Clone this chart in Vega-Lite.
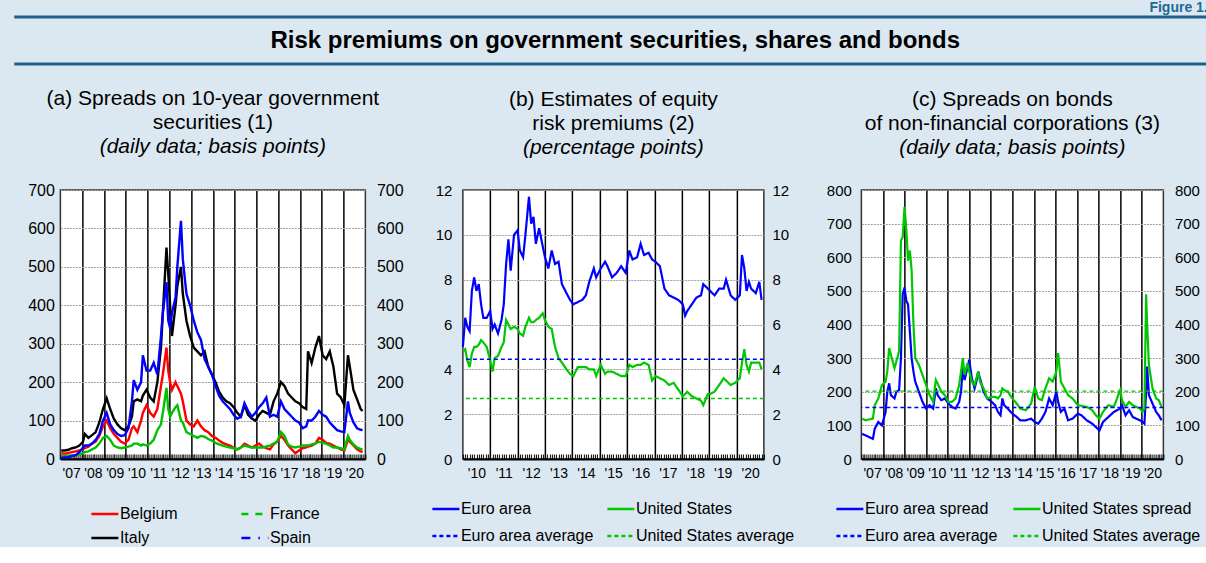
{
  "$schema": "https://vega.github.io/schema/vega-lite/v6.json",
  "background": "#dce8f1",
  "padding": {"left": 12, "top": 0, "right": 0, "bottom": 0},
  "config": {
    "font": "Liberation Sans",
    "view": {"stroke": "#333333", "strokeWidth": 1.5, "fill": "white"},
    "axis": {"labelColor": "black", "labelFont": "Liberation Sans", "labelFontSize": 16, "title": null},
    "legend": {"padding": 0, "labelFontSize": 16, "labelColor": "black", "labelFont": "Liberation Sans", "symbolStrokeWidth": 2.5, "symbolSize": 729, "symbolType": "stroke", "labelLimit": 260, "labelOffset": 0, "direction": "horizontal"},
    "title": {"font": "Liberation Sans", "fontSize": 21, "fontWeight": "normal", "color": "black", "subtitleFont": "Liberation Sans", "subtitleFontSize": 21, "subtitleFontStyle": "italic", "subtitleColor": "black", "lineHeight": 24, "subtitleLineHeight": 24, "subtitlePadding": 0, "anchor": "middle", "offset": 25}
  },
  "center": true,
  "spacing": 21,
  "vconcat": [
    {
      "width": 1232,
      "height": 47,
      "title": {"text": "Figure 1.", "anchor": "end", "fontSize": 14, "fontWeight": "bold", "color": "#1d6a93", "offset": 1, "dx": -40, "lineHeight": 14},
      "view": {"stroke": null, "fill": null},
      "layer": [
        {
          "data": {"values": [{"p": 0}, {"p": 1}]},
          "mark": {"type": "rule", "color": "#1f6089", "strokeWidth": 3},
          "encoding": {"y": {"field": "p", "type": "quantitative", "scale": {"domain": [0, 1], "nice": false}, "axis": null}}
        },
        {
          "data": {"values": [{"t": "Risk premiums on government securities, shares and bonds"}]},
          "mark": {"type": "text", "fontSize": 24, "fontWeight": "bold", "color": "black", "dx": -15},
          "encoding": {"text": {"field": "t"}}
        }
      ]
    },
    {
      "hconcat": [
        {
          "width": 305,
          "height": 269,
          "title": {"text": ["(a) Spreads on 10-year government", "securities (1)"], "subtitle": "(daily data; basis points)"},
          "data": {"values": [
            {"d": "2007-01-15", "Belgium": 15, "France": 6, "Italy": 22, "Spain": 3},
            {"d": "2007-03-15", "Belgium": 14, "France": 7, "Italy": 22, "Spain": 4},
            {"d": "2007-05-15", "Belgium": 16, "France": 8, "Italy": 24, "Spain": 5},
            {"d": "2007-07-15", "Belgium": 18, "France": 9, "Italy": 28, "Spain": 8},
            {"d": "2007-09-15", "Belgium": 20, "France": 10, "Italy": 30, "Spain": 10},
            {"d": "2007-11-15", "Belgium": 22, "France": 12, "Italy": 35, "Spain": 18},
            {"d": "2008-01-15", "Belgium": 25, "France": 15, "Italy": 45, "Spain": 30},
            {"d": "2008-02-15", "Belgium": 28, "France": 18, "Italy": 65, "Spain": 35},
            {"d": "2008-04-15", "Belgium": 32, "France": 20, "Italy": 55, "Spain": 35},
            {"d": "2008-06-15", "Belgium": 40, "France": 25, "Italy": 62, "Spain": 40},
            {"d": "2008-08-15", "Belgium": 45, "France": 30, "Italy": 70, "Spain": 50},
            {"d": "2008-10-15", "Belgium": 60, "France": 40, "Italy": 95, "Spain": 65},
            {"d": "2008-12-15", "Belgium": 85, "France": 55, "Italy": 130, "Spain": 100},
            {"d": "2009-02-15", "Belgium": 100, "France": 60, "Italy": 158, "Spain": 120},
            {"d": "2009-04-15", "Belgium": 80, "France": 50, "Italy": 130, "Spain": 90},
            {"d": "2009-06-15", "Belgium": 65, "France": 35, "Italy": 105, "Spain": 75},
            {"d": "2009-08-15", "Belgium": 55, "France": 30, "Italy": 90, "Spain": 65},
            {"d": "2009-10-15", "Belgium": 45, "France": 28, "Italy": 80, "Spain": 60},
            {"d": "2009-12-15", "Belgium": 40, "France": 30, "Italy": 75, "Spain": 62},
            {"d": "2010-02-15", "Belgium": 50, "France": 32, "Italy": 85, "Spain": 80},
            {"d": "2010-04-15", "Belgium": 80, "France": 35, "Italy": 110, "Spain": 150},
            {"d": "2010-05-15", "Belgium": 85, "France": 40, "Italy": 150, "Spain": 205},
            {"d": "2010-07-15", "Belgium": 70, "France": 40, "Italy": 155, "Spain": 180},
            {"d": "2010-09-15", "Belgium": 100, "France": 35, "Italy": 150, "Spain": 200},
            {"d": "2010-10-15", "Belgium": 120, "France": 38, "Italy": 165, "Spain": 270},
            {"d": "2010-12-15", "Belgium": 140, "France": 35, "Italy": 180, "Spain": 230},
            {"d": "2011-02-15", "Belgium": 120, "France": 40, "Italy": 160, "Spain": 230},
            {"d": "2011-04-15", "Belgium": 110, "France": 50, "Italy": 150, "Spain": 250},
            {"d": "2011-06-15", "Belgium": 130, "France": 75, "Italy": 200, "Spain": 220},
            {"d": "2011-08-15", "Belgium": 190, "France": 90, "Italy": 290, "Spain": 320},
            {"d": "2011-09-15", "Belgium": 220, "France": 120, "Italy": 380, "Spain": 380},
            {"d": "2011-11-15", "Belgium": 290, "France": 185, "Italy": 550, "Spain": 460},
            {"d": "2011-12-15", "Belgium": 230, "France": 130, "Italy": 480, "Spain": 360},
            {"d": "2012-01-15", "Belgium": 200, "France": 110, "Italy": 400, "Spain": 340},
            {"d": "2012-02-15", "Belgium": 180, "France": 120, "Italy": 320, "Spain": 380},
            {"d": "2012-04-15", "Belgium": 200, "France": 135, "Italy": 400, "Spain": 420},
            {"d": "2012-05-15", "Belgium": 190, "France": 140, "Italy": 450, "Spain": 500},
            {"d": "2012-07-15", "Belgium": 170, "France": 100, "Italy": 500, "Spain": 620},
            {"d": "2012-08-15", "Belgium": 150, "France": 95, "Italy": 430, "Spain": 520},
            {"d": "2012-10-15", "Belgium": 100, "France": 70, "Italy": 360, "Spain": 430},
            {"d": "2012-12-15", "Belgium": 90, "France": 65, "Italy": 320, "Spain": 400},
            {"d": "2013-02-15", "Belgium": 85, "France": 60, "Italy": 290, "Spain": 360},
            {"d": "2013-04-15", "Belgium": 100, "France": 55, "Italy": 280, "Spain": 330},
            {"d": "2013-06-15", "Belgium": 85, "France": 60, "Italy": 270, "Spain": 310},
            {"d": "2013-08-15", "Belgium": 75, "France": 58, "Italy": 280, "Spain": 260},
            {"d": "2013-10-15", "Belgium": 70, "France": 52, "Italy": 240, "Spain": 240},
            {"d": "2013-12-15", "Belgium": 60, "France": 48, "Italy": 220, "Spain": 220},
            {"d": "2014-02-15", "Belgium": 55, "France": 42, "Italy": 200, "Spain": 190},
            {"d": "2014-04-15", "Belgium": 48, "France": 38, "Italy": 175, "Spain": 165},
            {"d": "2014-06-15", "Belgium": 42, "France": 35, "Italy": 160, "Spain": 150},
            {"d": "2014-08-15", "Belgium": 38, "France": 32, "Italy": 150, "Spain": 140},
            {"d": "2014-10-15", "Belgium": 35, "France": 30, "Italy": 145, "Spain": 130},
            {"d": "2014-12-15", "Belgium": 30, "France": 28, "Italy": 135, "Spain": 115},
            {"d": "2015-02-15", "Belgium": 25, "France": 25, "Italy": 120, "Spain": 105},
            {"d": "2015-04-15", "Belgium": 30, "France": 30, "Italy": 110, "Spain": 110},
            {"d": "2015-06-15", "Belgium": 40, "France": 35, "Italy": 140, "Spain": 145},
            {"d": "2015-08-15", "Belgium": 35, "France": 32, "Italy": 115, "Spain": 125},
            {"d": "2015-10-15", "Belgium": 30, "France": 30, "Italy": 105, "Spain": 110},
            {"d": "2015-12-15", "Belgium": 35, "France": 30, "Italy": 100, "Spain": 120},
            {"d": "2016-02-15", "Belgium": 40, "France": 30, "Italy": 115, "Spain": 135},
            {"d": "2016-04-15", "Belgium": 32, "France": 30, "Italy": 125, "Spain": 145},
            {"d": "2016-06-15", "Belgium": 28, "France": 33, "Italy": 120, "Spain": 160},
            {"d": "2016-08-15", "Belgium": 25, "France": 35, "Italy": 115, "Spain": 110},
            {"d": "2016-10-15", "Belgium": 38, "France": 40, "Italy": 150, "Spain": 115},
            {"d": "2016-12-15", "Belgium": 45, "France": 45, "Italy": 170, "Spain": 110},
            {"d": "2017-02-15", "Belgium": 60, "France": 70, "Italy": 200, "Spain": 150},
            {"d": "2017-04-15", "Belgium": 50, "France": 60, "Italy": 190, "Spain": 130},
            {"d": "2017-06-15", "Belgium": 35, "France": 38, "Italy": 170, "Spain": 120},
            {"d": "2017-08-15", "Belgium": 25, "France": 32, "Italy": 160, "Spain": 110},
            {"d": "2017-10-15", "Belgium": 15, "France": 30, "Italy": 150, "Spain": 100},
            {"d": "2017-12-15", "Belgium": 22, "France": 32, "Italy": 145, "Spain": 95},
            {"d": "2018-02-15", "Belgium": 28, "France": 35, "Italy": 135, "Spain": 80},
            {"d": "2018-04-15", "Belgium": 30, "France": 35, "Italy": 130, "Spain": 85},
            {"d": "2018-05-15", "Belgium": 32, "France": 35, "Italy": 280, "Spain": 100},
            {"d": "2018-07-15", "Belgium": 35, "France": 38, "Italy": 250, "Spain": 100},
            {"d": "2018-09-15", "Belgium": 40, "France": 40, "Italy": 290, "Spain": 110},
            {"d": "2018-11-15", "Belgium": 55, "France": 45, "Italy": 320, "Spain": 125},
            {"d": "2019-01-15", "Belgium": 50, "France": 42, "Italy": 270, "Spain": 115},
            {"d": "2019-03-15", "Belgium": 42, "France": 40, "Italy": 260, "Spain": 110},
            {"d": "2019-05-15", "Belgium": 40, "France": 35, "Italy": 280, "Spain": 95},
            {"d": "2019-07-15", "Belgium": 35, "France": 30, "Italy": 240, "Spain": 85},
            {"d": "2019-09-15", "Belgium": 30, "France": 30, "Italy": 170, "Spain": 75},
            {"d": "2019-11-15", "Belgium": 25, "France": 28, "Italy": 160, "Spain": 72},
            {"d": "2020-01-15", "Belgium": 22, "France": 25, "Italy": 140, "Spain": 70},
            {"d": "2020-03-15", "Belgium": 50, "France": 60, "Italy": 270, "Spain": 150},
            {"d": "2020-04-15", "Belgium": 45, "France": 50, "Italy": 240, "Spain": 120},
            {"d": "2020-06-15", "Belgium": 35, "France": 38, "Italy": 180, "Spain": 95},
            {"d": "2020-08-15", "Belgium": 25, "France": 30, "Italy": 155, "Spain": 80},
            {"d": "2020-10-15", "Belgium": 20, "France": 26, "Italy": 130, "Spain": 76},
            {"d": "2020-11-15", "Belgium": 18, "France": 25, "Italy": 125, "Spain": 75}
          ]},
          "transform": [{"fold": ["Belgium", "France", "Italy", "Spain"], "as": ["series", "value"]}],
          "layer": [
            {
              "mark": {"type": "line", "strokeWidth": 2.4},
              "encoding": {
                "x": {"field": "d", "type": "temporal", "scale": {"domain": [{"year": 2007, "month": 1, "date": 1}, {"year": 2021, "month": 1, "date": 1}]},
                  "axis": {"orient": "bottom", "values": [{"year": 2008}, {"year": 2009}, {"year": 2010}, {"year": 2011}, {"year": 2012}, {"year": 2013}, {"year": 2014}, {"year": 2015}, {"year": 2016}, {"year": 2017}, {"year": 2018}, {"year": 2019}, {"year": 2020}], "grid": true, "gridColor": "black", "gridWidth": 1.5, "labels": false, "ticks": false, "domain": false, "title": null}},
                "y": {"field": "value", "type": "quantitative", "scale": {"domain": [0, 700], "nice": false},
                  "axis": {"orient": "left", "values": [0, 100, 200, 300, 400, 500, 600, 700], "grid": true, "gridColor": "#a0a0a0", "gridDash": [2, 1], "ticks": false, "domain": false, "labelPadding": 6, "labelFontSize": 16, "title": null}},
                "color": {"field": "series", "type": "nominal",
                  "scale": {"domain": ["Belgium", "France", "Italy", "Spain"], "range": ["#ff0000", "#00c000", "#000000", "#0000ff"]},
                  "legend": {"orient": "none", "direction": "horizontal", "legendX": 29.5, "legendY": 309, "columns": 2, "columnPadding": 58, "rowPadding": 1, "title": null, "symbolType": "stroke",
                    "encode": {"symbols": {"update": {"strokeDash": {"signal": "datum.value === 'France' ? [7, 7] : datum.value === 'Spain' ? [9, 8, 1.5, 8] : [1, 0]"}}}}}}
              }
            },
            {
              "mark": {"type": "point", "opacity": 0},
              "encoding": {
                "x": {"field": "d", "type": "temporal",
                  "axis": {"orient": "bottom", "tickCount": {"interval": "month", "step": 1}, "tickSize": -5, "tickColor": "black", "tickWidth": 1, "grid": false, "domain": true, "domainColor": "black", "domainWidth": 2, "labelPadding": 12, "labelFontSize": 14, "labelOverlap": false, "labelBound": false, "labelFlush": false, "labelExpr": "month(datum.value) == 6 ? \"'\" + timeFormat(datum.value, '%y') : ''", "title": null}},
                "y": {"field": "value", "type": "quantitative",
                  "axis": {"orient": "right", "values": [0, 100, 200, 300, 400, 500, 600, 700], "grid": false, "ticks": false, "domain": false, "labelPadding": 11, "labelFontSize": 16, "title": null}}
              }
            }
          ],
          "resolve": {"axis": {"x": "independent", "y": "independent"}}
        },
        {
          "width": 301,
          "height": 269,
          "title": {"text": ["(b) Estimates of equity", "risk premiums (2)"], "subtitle": "(percentage points)"},
          "layer": [
            {
              "data": {"values": [
                {"d": "2010-01-01", "Euro area": 5.0, "United States": 4.8},
                {"d": "2010-02-01", "Euro area": 6.3, "United States": 4.9},
                {"d": "2010-03-01", "Euro area": 5.9, "United States": 4.4},
                {"d": "2010-04-01", "Euro area": 5.7, "United States": 4.1},
                {"d": "2010-05-01", "Euro area": 7.5, "United States": 4.7},
                {"d": "2010-06-01", "Euro area": 8.1, "United States": 5.0},
                {"d": "2010-07-01", "Euro area": 7.5, "United States": 5.0},
                {"d": "2010-08-01", "Euro area": 7.8, "United States": 5.1},
                {"d": "2010-09-01", "Euro area": 6.9, "United States": 5.3},
                {"d": "2010-10-01", "Euro area": 6.3, "United States": 5.2},
                {"d": "2010-11-15", "Euro area": 6.3, "United States": 5.0},
                {"d": "2011-01-01", "Euro area": 6.6, "United States": 4.4},
                {"d": "2011-02-01", "Euro area": 5.8, "United States": 3.9},
                {"d": "2011-03-01", "Euro area": 6.0, "United States": 4.5},
                {"d": "2011-04-15", "Euro area": 5.6, "United States": 4.6},
                {"d": "2011-06-01", "Euro area": 6.2, "United States": 5.0},
                {"d": "2011-07-01", "Euro area": 6.9, "United States": 5.2},
                {"d": "2011-08-01", "Euro area": 8.7, "United States": 6.2},
                {"d": "2011-09-01", "Euro area": 9.8, "United States": 6.0},
                {"d": "2011-10-01", "Euro area": 8.4, "United States": 5.8},
                {"d": "2011-11-15", "Euro area": 10.0, "United States": 5.9},
                {"d": "2012-01-01", "Euro area": 10.2, "United States": 5.8},
                {"d": "2012-02-01", "Euro area": 9.3, "United States": 5.6},
                {"d": "2012-03-15", "Euro area": 9.0, "United States": 5.5},
                {"d": "2012-04-15", "Euro area": 10.0, "United States": 5.9},
                {"d": "2012-06-01", "Euro area": 11.7, "United States": 6.3},
                {"d": "2012-07-01", "Euro area": 10.5, "United States": 6.1},
                {"d": "2012-08-01", "Euro area": 10.8, "United States": 6.1},
                {"d": "2012-09-01", "Euro area": 9.6, "United States": 6.2},
                {"d": "2012-10-15", "Euro area": 10.3, "United States": 6.3},
                {"d": "2012-12-01", "Euro area": 9.5, "United States": 6.5},
                {"d": "2013-01-01", "Euro area": 9.0, "United States": 6.2},
                {"d": "2013-02-15", "Euro area": 8.5, "United States": 5.9},
                {"d": "2013-04-01", "Euro area": 9.3, "United States": 5.8},
                {"d": "2013-05-15", "Euro area": 8.7, "United States": 5.0},
                {"d": "2013-07-01", "Euro area": 8.8, "United States": 4.5},
                {"d": "2013-08-15", "Euro area": 7.8, "United States": 4.3},
                {"d": "2013-10-15", "Euro area": 7.4, "United States": 4.0},
                {"d": "2013-12-01", "Euro area": 7.1, "United States": 3.8},
                {"d": "2014-01-15", "Euro area": 6.9, "United States": 3.7},
                {"d": "2014-03-15", "Euro area": 7.0, "United States": 4.1},
                {"d": "2014-05-15", "Euro area": 7.1, "United States": 4.1},
                {"d": "2014-07-01", "Euro area": 7.3, "United States": 4.1},
                {"d": "2014-08-15", "Euro area": 7.9, "United States": 4.0},
                {"d": "2014-10-15", "Euro area": 8.5, "United States": 4.0},
                {"d": "2014-11-15", "Euro area": 8.1, "United States": 3.7},
                {"d": "2015-01-15", "Euro area": 8.5, "United States": 4.2},
                {"d": "2015-03-15", "Euro area": 8.8, "United States": 3.8},
                {"d": "2015-04-15", "Euro area": 8.6, "United States": 3.9},
                {"d": "2015-06-15", "Euro area": 8.1, "United States": 3.9},
                {"d": "2015-08-15", "Euro area": 8.3, "United States": 3.8},
                {"d": "2015-10-15", "Euro area": 8.6, "United States": 3.7},
                {"d": "2015-12-15", "Euro area": 8.3, "United States": 3.7},
                {"d": "2016-02-01", "Euro area": 9.3, "United States": 4.2},
                {"d": "2016-03-15", "Euro area": 8.9, "United States": 4.1},
                {"d": "2016-05-15", "Euro area": 9.0, "United States": 4.2},
                {"d": "2016-07-01", "Euro area": 9.6, "United States": 4.2},
                {"d": "2016-08-15", "Euro area": 9.1, "United States": 4.3},
                {"d": "2016-10-15", "Euro area": 9.2, "United States": 4.2},
                {"d": "2016-12-01", "Euro area": 8.9, "United States": 3.5},
                {"d": "2017-01-15", "Euro area": 8.8, "United States": 3.7},
                {"d": "2017-03-15", "Euro area": 8.6, "United States": 3.6},
                {"d": "2017-05-15", "Euro area": 7.6, "United States": 3.5},
                {"d": "2017-07-15", "Euro area": 7.3, "United States": 3.3},
                {"d": "2017-09-15", "Euro area": 7.2, "United States": 3.4},
                {"d": "2017-11-15", "Euro area": 7.1, "United States": 3.1},
                {"d": "2018-01-15", "Euro area": 6.9, "United States": 2.8},
                {"d": "2018-02-15", "Euro area": 6.4, "United States": 2.9},
                {"d": "2018-03-15", "Euro area": 6.6, "United States": 3.0},
                {"d": "2018-05-15", "Euro area": 6.9, "United States": 2.8},
                {"d": "2018-07-15", "Euro area": 7.2, "United States": 2.7},
                {"d": "2018-09-15", "Euro area": 7.3, "United States": 2.6},
                {"d": "2018-10-15", "Euro area": 7.8, "United States": 2.4},
                {"d": "2018-12-15", "Euro area": 7.6, "United States": 2.9},
                {"d": "2019-01-15", "Euro area": 7.5, "United States": 2.9},
                {"d": "2019-03-15", "Euro area": 7.3, "United States": 3.0},
                {"d": "2019-05-15", "Euro area": 7.6, "United States": 3.3},
                {"d": "2019-07-15", "Euro area": 7.6, "United States": 3.6},
                {"d": "2019-08-15", "Euro area": 8.0, "United States": 3.5},
                {"d": "2019-10-15", "Euro area": 7.3, "United States": 3.3},
                {"d": "2019-12-15", "Euro area": 7.1, "United States": 3.4},
                {"d": "2020-02-15", "Euro area": 7.3, "United States": 3.6},
                {"d": "2020-03-15", "Euro area": 9.1, "United States": 4.3},
                {"d": "2020-04-15", "Euro area": 8.5, "United States": 4.9},
                {"d": "2020-05-15", "Euro area": 7.5, "United States": 4.2},
                {"d": "2020-06-15", "Euro area": 7.9, "United States": 3.9},
                {"d": "2020-07-15", "Euro area": 7.6, "United States": 4.3},
                {"d": "2020-09-15", "Euro area": 7.4, "United States": 4.3},
                {"d": "2020-11-01", "Euro area": 7.9, "United States": 4.3},
                {"d": "2020-12-01", "Euro area": 7.1, "United States": 4.0}
              ]},
              "transform": [{"fold": ["Euro area", "United States"], "as": ["series", "value"]}],
              "mark": {"type": "line", "strokeWidth": 2.2},
              "encoding": {
                "x": {"field": "d", "type": "temporal", "scale": {"domain": [{"year": 2010, "month": 1, "date": 1}, {"year": 2021, "month": 1, "date": 1}]},
                  "axis": {"orient": "bottom", "values": [{"year": 2011}, {"year": 2012}, {"year": 2013}, {"year": 2014}, {"year": 2015}, {"year": 2016}, {"year": 2017}, {"year": 2018}, {"year": 2019}, {"year": 2020}], "grid": true, "gridColor": "black", "gridWidth": 1.5, "labels": false, "ticks": false, "domain": false, "title": null}},
                "y": {"field": "value", "type": "quantitative", "scale": {"domain": [0, 12], "nice": false},
                  "axis": {"orient": "left", "values": [0, 2, 4, 6, 8, 10, 12], "grid": true, "gridColor": "#a0a0a0", "gridDash": [2, 1], "ticks": false, "domain": false, "labelPadding": 11, "labelFontSize": 15, "title": null}},
                "color": {"field": "series", "type": "nominal",
                  "scale": {"domain": ["Euro area", "United States", "Euro area average", "United States average"], "range": ["#0000ff", "#00c800", "#0000ff", "#00c800"]},
                  "legend": {"orient": "none", "direction": "horizontal", "legendX": -32, "legendY": 304, "columns": 2, "columnPadding": 8, "rowPadding": 4, "title": null, "symbolType": "stroke"}},
                "strokeDash": {"field": "series", "type": "nominal",
                  "scale": {"domain": ["Euro area", "United States", "Euro area average", "United States average"], "range": [[1, 0], [1, 0], [4, 3], [4, 3]]},
                  "legend": {"orient": "none", "direction": "horizontal", "legendX": -32, "legendY": 304, "columns": 2, "columnPadding": 8, "rowPadding": 4, "title": null, "symbolType": "stroke"}}
              }
            },
            {
              "data": {"values": [
                {"d": "2010-01-01", "value": 0},
                {"d": "2020-12-31", "value": 0}
              ]},
              "mark": {"type": "point", "opacity": 0},
              "encoding": {
                "x": {"field": "d", "type": "temporal",
                  "axis": {"orient": "bottom", "tickCount": {"interval": "month", "step": 1}, "tickSize": -5, "tickColor": "black", "tickWidth": 1, "grid": false, "domain": true, "domainColor": "black", "domainWidth": 2, "labelPadding": 12, "labelFontSize": 14, "labelOverlap": false, "labelBound": false, "labelFlush": false, "labelExpr": "month(datum.value) == 6 ? \"'\" + timeFormat(datum.value, '%y') : ''", "title": null}},
                "y": {"field": "value", "type": "quantitative",
                  "axis": {"orient": "right", "values": [0, 2, 4, 6, 8, 10, 12], "grid": false, "ticks": false, "domain": false, "labelPadding": 8, "labelFontSize": 15, "title": null}}
              }
            },
            {
              "data": {"values": [
                {"series": "Euro area average", "value": 4.45},
                {"series": "United States average", "value": 2.7}
              ]},
              "mark": {"type": "rule", "strokeWidth": 1.4},
              "encoding": {
                "y": {"field": "value", "type": "quantitative", "axis": null},
                "color": {"field": "series", "type": "nominal"},
                "strokeDash": {"field": "series", "type": "nominal"}
              }
            }
          ],
          "resolve": {"axis": {"x": "independent", "y": "independent"}}
        },
        {
          "width": 302,
          "height": 269,
          "title": {"text": ["(c) Spreads on bonds", "of non-financial corporations (3)"], "subtitle": "(daily data; basis points)"},
          "layer": [
            {
              "data": {"values": [
                {"d": "2007-01-15", "Euro area spread": 75, "United States spread": 120},
                {"d": "2007-03-15", "Euro area spread": 70, "United States spread": 115},
                {"d": "2007-05-15", "Euro area spread": 65, "United States spread": 118},
                {"d": "2007-07-15", "Euro area spread": 60, "United States spread": 120},
                {"d": "2007-08-15", "Euro area spread": 90, "United States spread": 160},
                {"d": "2007-10-15", "Euro area spread": 110, "United States spread": 180},
                {"d": "2007-12-15", "Euro area spread": 100, "United States spread": 220},
                {"d": "2008-02-15", "Euro area spread": 140, "United States spread": 230},
                {"d": "2008-03-15", "Euro area spread": 200, "United States spread": 260},
                {"d": "2008-04-15", "Euro area spread": 225, "United States spread": 330},
                {"d": "2008-05-15", "Euro area spread": 190, "United States spread": 310},
                {"d": "2008-07-15", "Euro area spread": 180, "United States spread": 270},
                {"d": "2008-08-15", "Euro area spread": 200, "United States spread": 290},
                {"d": "2008-10-01", "Euro area spread": 205, "United States spread": 320},
                {"d": "2008-11-01", "Euro area spread": 300, "United States spread": 650},
                {"d": "2008-12-01", "Euro area spread": 490, "United States spread": 660},
                {"d": "2009-01-01", "Euro area spread": 510, "United States spread": 750},
                {"d": "2009-02-01", "Euro area spread": 470, "United States spread": 680},
                {"d": "2009-03-01", "Euro area spread": 460, "United States spread": 590},
                {"d": "2009-04-01", "Euro area spread": 380, "United States spread": 620},
                {"d": "2009-05-01", "Euro area spread": 300, "United States spread": 560},
                {"d": "2009-06-01", "Euro area spread": 260, "United States spread": 400},
                {"d": "2009-07-01", "Euro area spread": 230, "United States spread": 300},
                {"d": "2009-09-01", "Euro area spread": 200, "United States spread": 280},
                {"d": "2009-11-01", "Euro area spread": 170, "United States spread": 250},
                {"d": "2010-01-01", "Euro area spread": 150, "United States spread": 220},
                {"d": "2010-03-01", "Euro area spread": 160, "United States spread": 190},
                {"d": "2010-05-01", "Euro area spread": 150, "United States spread": 170},
                {"d": "2010-06-15", "Euro area spread": 210, "United States spread": 235},
                {"d": "2010-07-15", "Euro area spread": 190, "United States spread": 225},
                {"d": "2010-09-15", "Euro area spread": 175, "United States spread": 200},
                {"d": "2010-11-15", "Euro area spread": 180, "United States spread": 190},
                {"d": "2011-01-15", "Euro area spread": 165, "United States spread": 170},
                {"d": "2011-03-15", "Euro area spread": 155, "United States spread": 170},
                {"d": "2011-05-15", "Euro area spread": 150, "United States spread": 180},
                {"d": "2011-07-15", "Euro area spread": 170, "United States spread": 220},
                {"d": "2011-08-15", "Euro area spread": 200, "United States spread": 260},
                {"d": "2011-09-15", "Euro area spread": 270, "United States spread": 300},
                {"d": "2011-10-15", "Euro area spread": 235, "United States spread": 250},
                {"d": "2011-12-01", "Euro area spread": 270, "United States spread": 285},
                {"d": "2012-01-01", "Euro area spread": 295, "United States spread": 260},
                {"d": "2012-02-15", "Euro area spread": 240, "United States spread": 230},
                {"d": "2012-04-01", "Euro area spread": 210, "United States spread": 220},
                {"d": "2012-05-01", "Euro area spread": 230, "United States spread": 240},
                {"d": "2012-06-01", "Euro area spread": 260, "United States spread": 260},
                {"d": "2012-07-01", "Euro area spread": 240, "United States spread": 230},
                {"d": "2012-09-01", "Euro area spread": 200, "United States spread": 210},
                {"d": "2012-11-01", "Euro area spread": 180, "United States spread": 180},
                {"d": "2013-01-15", "Euro area spread": 170, "United States spread": 185},
                {"d": "2013-03-15", "Euro area spread": 160, "United States spread": 185},
                {"d": "2013-05-01", "Euro area spread": 140, "United States spread": 180},
                {"d": "2013-06-15", "Euro area spread": 130, "United States spread": 190},
                {"d": "2013-07-15", "Euro area spread": 180, "United States spread": 210},
                {"d": "2013-08-15", "Euro area spread": 160, "United States spread": 205},
                {"d": "2013-10-15", "Euro area spread": 150, "United States spread": 200},
                {"d": "2014-01-01", "Euro area spread": 135, "United States spread": 180},
                {"d": "2014-03-15", "Euro area spread": 125, "United States spread": 165},
                {"d": "2014-05-15", "Euro area spread": 115, "United States spread": 150},
                {"d": "2014-08-15", "Euro area spread": 115, "United States spread": 145},
                {"d": "2014-11-15", "Euro area spread": 120, "United States spread": 165},
                {"d": "2015-01-15", "Euro area spread": 110, "United States spread": 215},
                {"d": "2015-03-15", "Euro area spread": 105, "United States spread": 180},
                {"d": "2015-05-15", "Euro area spread": 120, "United States spread": 175},
                {"d": "2015-07-15", "Euro area spread": 140, "United States spread": 210},
                {"d": "2015-09-15", "Euro area spread": 180, "United States spread": 240},
                {"d": "2015-11-15", "Euro area spread": 160, "United States spread": 230},
                {"d": "2016-01-15", "Euro area spread": 200, "United States spread": 260},
                {"d": "2016-02-15", "Euro area spread": 170, "United States spread": 315},
                {"d": "2016-04-01", "Euro area spread": 140, "United States spread": 230},
                {"d": "2016-06-01", "Euro area spread": 150, "United States spread": 210},
                {"d": "2016-08-01", "Euro area spread": 115, "United States spread": 190},
                {"d": "2016-10-15", "Euro area spread": 120, "United States spread": 180},
                {"d": "2017-01-15", "Euro area spread": 135, "United States spread": 160},
                {"d": "2017-03-15", "Euro area spread": 130, "United States spread": 158},
                {"d": "2017-06-15", "Euro area spread": 115, "United States spread": 155},
                {"d": "2017-09-15", "Euro area spread": 105, "United States spread": 145},
                {"d": "2017-11-15", "Euro area spread": 95, "United States spread": 130},
                {"d": "2018-01-15", "Euro area spread": 85, "United States spread": 120},
                {"d": "2018-03-15", "Euro area spread": 110, "United States spread": 140},
                {"d": "2018-06-15", "Euro area spread": 125, "United States spread": 160},
                {"d": "2018-09-15", "Euro area spread": 140, "United States spread": 155},
                {"d": "2019-01-01", "Euro area spread": 150, "United States spread": 205},
                {"d": "2019-02-01", "Euro area spread": 160, "United States spread": 175},
                {"d": "2019-04-01", "Euro area spread": 130, "United States spread": 155},
                {"d": "2019-06-01", "Euro area spread": 145, "United States spread": 170},
                {"d": "2019-08-01", "Euro area spread": 125, "United States spread": 160},
                {"d": "2019-10-01", "Euro area spread": 120, "United States spread": 155},
                {"d": "2019-12-01", "Euro area spread": 115, "United States spread": 150},
                {"d": "2020-01-15", "Euro area spread": 110, "United States spread": 140},
                {"d": "2020-02-15", "Euro area spread": 105, "United States spread": 150},
                {"d": "2020-03-15", "Euro area spread": 200, "United States spread": 490},
                {"d": "2020-04-01", "Euro area spread": 275, "United States spread": 400},
                {"d": "2020-05-01", "Euro area spread": 190, "United States spread": 280},
                {"d": "2020-07-01", "Euro area spread": 165, "United States spread": 210},
                {"d": "2020-09-01", "Euro area spread": 140, "United States spread": 180},
                {"d": "2020-10-15", "Euro area spread": 130, "United States spread": 175},
                {"d": "2020-12-01", "Euro area spread": 115, "United States spread": 155}
              ]},
              "transform": [{"fold": ["Euro area spread", "United States spread"], "as": ["series", "value"]}],
              "mark": {"type": "line", "strokeWidth": 2.2},
              "encoding": {
                "x": {"field": "d", "type": "temporal", "scale": {"domain": [{"year": 2007, "month": 1, "date": 1}, {"year": 2021, "month": 1, "date": 1}]},
                  "axis": {"orient": "bottom", "values": [{"year": 2008}, {"year": 2009}, {"year": 2010}, {"year": 2011}, {"year": 2012}, {"year": 2013}, {"year": 2014}, {"year": 2015}, {"year": 2016}, {"year": 2017}, {"year": 2018}, {"year": 2019}, {"year": 2020}], "grid": true, "gridColor": "black", "gridWidth": 1.5, "labels": false, "ticks": false, "domain": false, "title": null}},
                "y": {"field": "value", "type": "quantitative", "scale": {"domain": [0, 800], "nice": false},
                  "axis": {"orient": "left", "values": [0, 100, 200, 300, 400, 500, 600, 700, 800], "grid": true, "gridColor": "#a0a0a0", "gridDash": [2, 1], "ticks": false, "domain": false, "labelPadding": 10, "labelFontSize": 15, "title": null}},
                "color": {"field": "series", "type": "nominal",
                  "scale": {"domain": ["Euro area spread", "United States spread", "Euro area average", "United States average"], "range": ["#0000ff", "#00c800", "#0000ff", "#00c800"]},
                  "legend": {"orient": "none", "direction": "horizontal", "legendX": -26.5, "legendY": 304, "columns": 2, "columnPadding": 10, "rowPadding": 4, "title": null, "symbolType": "stroke"}},
                "strokeDash": {"field": "series", "type": "nominal",
                  "scale": {"domain": ["Euro area spread", "United States spread", "Euro area average", "United States average"], "range": [[1, 0], [1, 0], [4, 3], [4, 3]]},
                  "legend": {"orient": "none", "direction": "horizontal", "legendX": -26.5, "legendY": 304, "columns": 2, "columnPadding": 10, "rowPadding": 4, "title": null, "symbolType": "stroke"}}
              }
            },
            {
              "data": {"values": [
                {"d": "2007-01-01", "value": 0},
                {"d": "2020-12-31", "value": 0}
              ]},
              "mark": {"type": "point", "opacity": 0},
              "encoding": {
                "x": {"field": "d", "type": "temporal",
                  "axis": {"orient": "bottom", "tickCount": {"interval": "month", "step": 1}, "tickSize": -5, "tickColor": "black", "tickWidth": 1, "grid": false, "domain": true, "domainColor": "black", "domainWidth": 2, "labelPadding": 12, "labelFontSize": 14, "labelOverlap": false, "labelBound": false, "labelFlush": false, "labelExpr": "month(datum.value) == 6 ? \"'\" + timeFormat(datum.value, '%y') : ''", "title": null}},
                "y": {"field": "value", "type": "quantitative",
                  "axis": {"orient": "right", "values": [0, 100, 200, 300, 400, 500, 600, 700, 800], "grid": false, "ticks": false, "domain": false, "labelPadding": 11, "labelFontSize": 15, "title": null}}
              }
            },
            {
              "data": {"values": [
                {"series": "Euro area average", "value": 153},
                {"series": "United States average", "value": 202}
              ]},
              "mark": {"type": "rule", "strokeWidth": 1.4},
              "encoding": {
                "y": {"field": "value", "type": "quantitative", "axis": null},
                "color": {"field": "series", "type": "nominal"},
                "strokeDash": {"field": "series", "type": "nominal"}
              }
            }
          ],
          "resolve": {"axis": {"x": "independent", "y": "independent"}}
        }
      ],
      "bounds": "flush",
      "spacing": 97.5,
      "resolve": {"scale": {"color": "independent", "strokeDash": "independent"}}
    }
  ]
}
